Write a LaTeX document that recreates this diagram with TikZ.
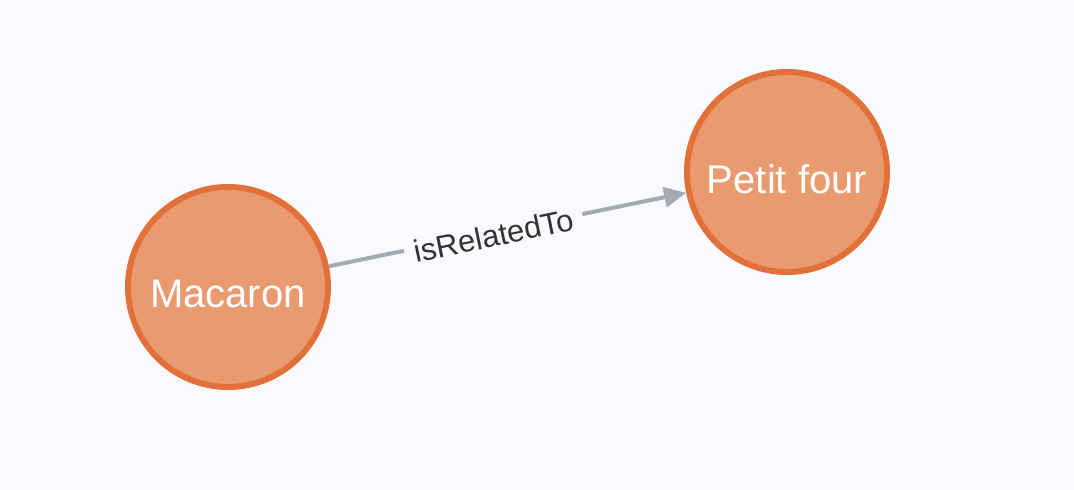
\documentclass[tikz,border=0pt]{standalone}
\usepackage{fontspec}
\setmainfont{Liberation Sans}
\usepackage{tikz}
\usetikzlibrary{arrows.meta,positioning,calc}

\definecolor{canvas}{HTML}{F9FAFE}
\definecolor{nodefill}{HTML}{E99B6F}
\definecolor{nodeline}{HTML}{E2703A}
\definecolor{edgegray}{HTML}{A5A9B3}
\definecolor{labeltext}{HTML}{333333}

\begin{document}
\begin{tikzpicture}[x=1pt, y=-1pt]
% Define styles for the graph
\tikzset{
  entity/.style={circle, draw=nodeline, fill=nodefill, line width=6pt, minimum size=200pt, inner sep=0pt, text=white, font=\fontsize{40}{44}\selectfont},
  caption/.style={text=white, font=\fontsize{40}{44}\selectfont},
  relation/.style={draw=edgegray, line width=4pt, -{Triangle[length=22pt, width=20pt]}},
  rellabel/.style={fill=canvas, inner sep=10pt, text=labeltext, font=\fontsize{31}{34}\selectfont, sloped}
}

% Canvas
\fill[canvas] (0,0) rectangle (1074,490);
\useasboundingbox (0,0) rectangle (1074,490);

% Place nodes
\node [entity] (macaron) at (228,287) {};
\node [entity] (petitfour) at (787,172) {};
\node [caption] (macarontext) at ($(macaron)+(0,7)$) {Macaron};
\node [caption] (petitfourtext) at ($(petitfour)+(0,7)$) {Petit four};

% Connect nodes
\draw [relation] (macaron) -- node[rellabel, pos=0.46, yshift=-3pt] {isRelatedTo} (petitfour);

\end{tikzpicture}
\end{document}
